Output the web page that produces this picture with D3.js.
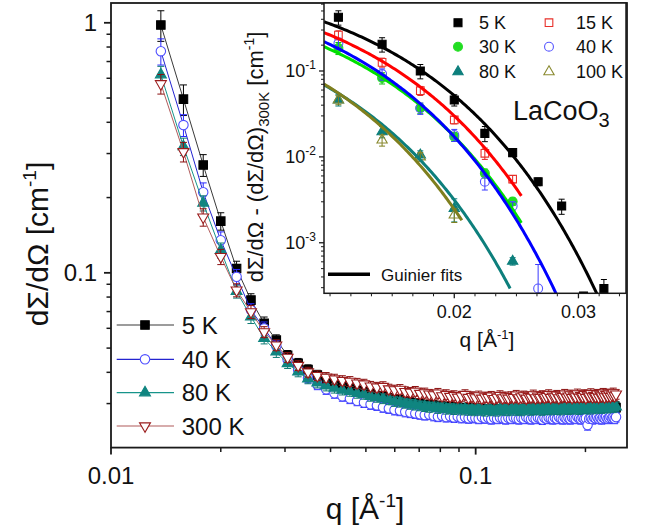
<!DOCTYPE html>
<html><head><meta charset="utf-8">
<script src="https://cdn.jsdelivr.net/npm/d3@7"></script>
<style>
body{margin:0;background:#fff}
text{font-family:"Liberation Sans",Arial,sans-serif;fill:#111}
</style>
</head><body>
<svg id="c" width="649" height="532"></svg>
<script>
// ---------------- MAIN PLOT DATA ----------------
const q = [
0.0137,0.0158,0.0179,0.0200,0.0221,0.0242,0.0263,0.0284,0.0305,0.0326,
0.0347,0.0368,0.0389,0.0410,0.0431,0.0452,0.0473,0.0494,0.0515,0.0536,
0.0557,0.0578,0.0599,0.0620,0.0641,0.0662,0.0683,0.0704,0.0725,0.0746,
0.0767,0.0788,0.0809,0.0830,0.0851,0.0872,0.0893,0.0914,0.0935,0.0956,
0.0977,0.0998,0.1019,0.1040,0.1061,0.1082,0.1103,0.1124,0.1145,0.1166,
0.1187,0.1208,0.1229,0.1250,0.1271,0.1292,0.1313,0.1334,0.1355,0.1376,
0.1397,0.1418,0.1439,0.1460,0.1481,0.1502,0.1523,0.1544,0.1565,0.1586,
0.1607,0.1628,0.1649,0.1670,0.1691,0.1712,0.1733,0.1754,0.1775,0.1796,
0.1817,0.1838,0.1859,0.1880,0.1901,0.1922,0.1943,0.1964,0.1985,0.2006,
0.2027,0.2048,0.2069,0.2090,0.2111,0.2132,0.2153,0.2174,0.2195,0.2216,
0.2237,0.2258,0.2279,0.2300,0.2321,0.2342,0.2363,0.2384,0.2405,0.2426];

const I_5K = [
0.980,0.495,0.270,0.161,0.104,0.0778,0.0628,0.0538,0.0468,0.0435,
0.0410,0.0390,0.0376,0.0362,0.0353,0.0345,0.0338,0.0333,0.0327,0.0322,
0.0319,0.0315,0.0311,0.0309,0.0305,0.0303,0.0300,0.0298,0.0296,0.0294,
0.0295,0.0291,0.0292,0.0289,0.0291,0.0288,0.0289,0.0286,0.0288,0.0285,
0.0287,0.0284,0.0286,0.0283,0.0285,0.0283,0.0286,0.0282,0.0285,0.0283,
0.0286,0.0284,0.0282,0.0285,0.0283,0.0286,0.0284,0.0282,0.0285,0.0287,
0.0284,0.0286,0.0283,0.0285,0.0287,0.0284,0.0286,0.0288,0.0285,0.0287,
0.0284,0.0286,0.0288,0.0285,0.0287,0.0289,0.0286,0.0288,0.0285,0.0289,
0.0287,0.0290,0.0286,0.0288,0.0291,0.0287,0.0289,0.0286,0.0290,0.0288,
0.0291,0.0287,0.0289,0.0292,0.0288,0.0290,0.0287,0.0291,0.0289,0.0292,
0.0288,0.0290,0.0293,0.0289,0.0291,0.0288,0.0292,0.0290,0.0293,0.0289];

const I_40K = [
0.770,0.390,0.210,0.135,0.0964,0.0710,0.0600,0.0510,0.0450,0.0410,
0.0380,0.0357,0.0342,0.0330,0.0321,0.0314,0.0308,0.0303,0.0298,0.0295,
0.0290,0.0287,0.0283,0.0281,0.0278,0.0276,0.0274,0.0272,0.0270,0.0271,
0.0268,0.0266,0.0268,0.0265,0.0267,0.0264,0.0266,0.0263,0.0265,0.0262,
0.0264,0.0263,0.0261,0.0265,0.0262,0.0264,0.0260,0.0263,0.0261,0.0264,
0.0262,0.0260,0.0263,0.0261,0.0264,0.0262,0.0260,0.0263,0.0261,0.0265,
0.0262,0.0260,0.0263,0.0261,0.0264,0.0262,0.0259,0.0263,0.0261,0.0264,
0.0262,0.0260,0.0263,0.0261,0.0265,0.0262,0.0260,0.0264,0.0261,0.0263,
0.0260,0.0264,0.0262,0.0261,0.0265,0.0262,0.0260,0.0263,0.0261,0.0262,
0.0246,0.0261,0.0263,0.0260,0.0264,0.0262,0.0265,0.0261,0.0263,0.0260,
0.0264,0.0262,0.0265,0.0261,0.0263,0.0266,0.0262,0.0264,0.0261,0.0265];

const I_80K = [
0.620,0.320,0.190,0.123,0.0843,0.0667,0.0547,0.0483,0.0434,0.0402,
0.0377,0.0363,0.0353,0.0346,0.0340,0.0336,0.0330,0.0327,0.0321,0.0318,
0.0314,0.0311,0.0306,0.0304,0.0301,0.0298,0.0296,0.0294,0.0292,0.0290,
0.0291,0.0287,0.0289,0.0285,0.0287,0.0284,0.0286,0.0283,0.0285,0.0282,
0.0284,0.0281,0.0285,0.0282,0.0280,0.0284,0.0281,0.0283,0.0280,0.0284,
0.0282,0.0285,0.0281,0.0283,0.0286,0.0282,0.0284,0.0281,0.0285,0.0283,
0.0286,0.0282,0.0284,0.0287,0.0283,0.0285,0.0282,0.0286,0.0284,0.0287,
0.0283,0.0285,0.0288,0.0284,0.0286,0.0283,0.0287,0.0285,0.0289,0.0284,
0.0287,0.0285,0.0290,0.0286,0.0288,0.0284,0.0289,0.0286,0.0291,0.0287,
0.0289,0.0285,0.0290,0.0288,0.0292,0.0286,0.0290,0.0288,0.0293,0.0287,
0.0291,0.0289,0.0294,0.0288,0.0292,0.0290,0.0295,0.0289,0.0293,0.0291];

const I_300K = [
0.570,0.305,0.167,0.116,0.0853,0.0698,0.0580,0.0514,0.0459,0.0426,
0.0401,0.0388,0.0382,0.0376,0.0371,0.0368,0.0362,0.0359,0.0352,0.0349,
0.0351,0.0343,0.0340,0.0342,0.0335,0.0333,0.0336,0.0329,0.0331,0.0327,
0.0325,0.0330,0.0322,0.0326,0.0320,0.0323,0.0318,0.0321,0.0326,0.0317,
0.0320,0.0316,0.0322,0.0315,0.0319,0.0317,0.0321,0.0314,0.0318,0.0323,
0.0316,0.0319,0.0315,0.0320,0.0317,0.0324,0.0316,0.0319,0.0322,0.0315,
0.0320,0.0318,0.0325,0.0316,0.0321,0.0317,0.0323,0.0318,0.0320,0.0326,
0.0317,0.0321,0.0319,0.0324,0.0316,0.0322,0.0320,0.0327,0.0318,0.0321,
0.0325,0.0317,0.0322,0.0319,0.0328,0.0318,0.0323,0.0320,0.0326,0.0317,
0.0324,0.0321,0.0329,0.0319,0.0323,0.0320,0.0327,0.0318,0.0325,0.0322,
0.0330,0.0319,0.0326,0.0321,0.0328,0.0320,0.0325,0.0331,0.0322,0.0327];

// relative errors of the first points, then the plateau value
const relErrLow_5K   = [0.14,0.14,0.10,0.08,0.07,0.06,0.06,0.05];
const relErrLow_40K  = [0.12,0.10,0.09,0.08,0.07,0.06,0.06,0.05];
const relErrLow_80K  = [0.08,0.08,0.07,0.07,0.06,0.06,0.05,0.05];
const relErrLow_300K = [0.09,0.09,0.08,0.07,0.06,0.06,0.05,0.05];
const relErrPlateau = 0.045;

const mainLegend = ["5 K","40 K","80 K","300 K"];
const mainXMajor = [0.01, 0.1];
const mainXMajorLabels = ["0.01","0.1"];
const mainXMinor = [0.02,0.03,0.04,0.05,0.06,0.07,0.08,0.09,0.2];
const mainYMajor = [0.1, 1];
const mainYMajorLabels = ["0.1","1"];
const mainYMinor = [0.03,0.04,0.05,0.06,0.07,0.08,0.09,0.2,0.3,0.4,0.5,0.6,0.7,0.8,0.9];

// ---------------- INSET DATA ----------------
const insetQ = [0.0137,0.0158,0.0179,0.0200,0.0221,0.0242,0.0263,0.0284,0.0305,0.0326];
const dI_5K   = [0.422,0.205,0.100,0.046,0.0188,0.0112,0.00514,0.00268,0.00024,0.000294];
const dI_15K  = [0.262,0.126,0.059,0.0269,0.0110,0.00552];
const dI_30K  = [0.185,0.083,0.037,0.0172,0.00643,0.00302];
const dI_40K  = [0.210,0.092,0.0368,0.0180,0.00514,0.00268,0.000294];
const dI_80K  = [0.046,0.0196,0.0105,0.0025,null,0.00061];
const dI_100K = [0.046,0.0157,0.0100,0.0021];
const dErr_5K   = [0.19,0.19,0.19,0.15,0.20,0.10,0.10,0.20,0.10,0.27];
const dErr_15K  = [0.12,0.12,0.12,0.10,0.15,0.10];
const dErr_30K  = [0.16,0.15,0.14,0.12,0.12,0.10];
const dErr_40K  = [0.15,0.15,0.15,0.16,0.20,0.12,0.90];
const dErr_80K  = [0.15,0.15,0.12,0.30,null,0.10];
const dErr_100K = [0.12,0.15,0.12,0.18];
const insetLegend = ["5 K","15 K","30 K","40 K","80 K","100 K"];
// Guinier fit parameters  I(q) = I0 exp(-q^2 Rg^2 / 3)
const fitI0   = [1.64, 1.48, 1.156, 1.469, 0.687, 0.861];
const fitRg   = [161, 171, 177.6, 182.7, 201, 209.6];
const fitQmax = [0.0350, 0.0249, 0.0249, 0.0350, 0.0240, 0.0205];
const insetXMajor = [0.02, 0.03];
const insetXMajorLabels = ["0.02","0.03"];
const insetXMinor = [0.01333,0.01427,0.01526,0.01633,0.01747,0.01869,0.0214,0.0229,0.0245,0.0262,0.0280,0.0321,0.0343];
const insetYMajor = [0.1, 0.01, 0.001];
const insetYExp = ["-1","-2","-3"];

// ---------------- DRAW ----------------
const svg = d3.select("#c");
const M = {l:111, r:627, t:3, b:447.6};
const x = d3.scaleLog().domain([0.01,0.26]).range([M.l,M.r]);
const y = d3.scaleLog().domain([0.02,1.2]).range([M.b,M.t]);
const defs = svg.append("defs");
defs.append("clipPath").attr("id","cm").append("rect").attr("x",M.l).attr("y",M.t).attr("width",M.r-M.l).attr("height",M.b-M.t);

function errs(vals, low){ return vals.map((v,i)=> v*(i<low.length?low[i]:relErrPlateau)); }

const mainStyles = [
 {vals:I_5K, err:errs(I_5K,relErrLow_5K), line:"#3a3a3a", ebar:"#000", sym:d3.symbolSquare, size:72, fill:"#000", stroke:"#000", rot:false},
 {vals:I_40K, err:errs(I_40K,relErrLow_40K), line:"#2424d0", ebar:"#2a2aff", sym:d3.symbolCircle, size:70, fill:"#fff", stroke:"#4f4fff", rot:false},
 {vals:I_80K, err:errs(I_80K,relErrLow_80K), line:"#17948a", ebar:"#0f7a74", sym:d3.symbolTriangle, size:52, fill:"#108580", stroke:"#108580", rot:false},
 {vals:I_300K, err:errs(I_300K,relErrLow_300K), line:"#b05a5a", ebar:"#8b1010", sym:d3.symbolTriangle, size:52, fill:"#fff", stroke:"#9a1c1c", rot:true}
];

function drawSeries(g, xs, ys, qs, vals, errsArr, st, capW, drawLine){
  const pts = qs.map((qq,i)=>({q:qq, v:vals[i], e:errsArr[i]})).filter(d=>d.v!=null && d.v!==undefined);
  if (drawLine) g.append("path").datum(pts)
     .attr("d", d3.line().x(d=>xs(d.q)).y(d=>ys(d.v)))
     .attr("fill","none").attr("stroke",st.line).attr("stroke-width",1);
  const eb = g.append("g").attr("stroke", st.ebar).attr("stroke-width",1).attr("fill","none");
  pts.forEach(d=>{
    if (d.e==null) return;
    const lo = Math.max(d.v-d.e, 1e-6), hi = d.v+d.e, X = xs(d.q);
    eb.append("path").attr("d", `M${X},${ys(lo)}V${ys(hi)}M${X-capW/2},${ys(hi)}h${capW}M${X-capW/2},${ys(lo)}h${capW}`);
  });
  g.selectAll(null).data(pts).join("path")
    .attr("d", d3.symbol().type(st.sym).size(st.size))
    .attr("transform", d=>`translate(${xs(d.q)},${ys(d.v)})${st.rot?" rotate(180)":""}`)
    .attr("fill", st.fill).attr("stroke", st.stroke).attr("stroke-width", st.sw||1.1);
}

const gm = svg.append("g").attr("clip-path","url(#cm)");
mainStyles.forEach(st=> drawSeries(gm, x, y, q, st.vals, st.err, st, 7, true));

// main frame and ticks
const ax = svg.append("g").attr("stroke","#1a1a1a");
ax.append("rect").attr("x",M.l).attr("y",M.t).attr("width",M.r-M.l).attr("height",M.b-M.t).attr("fill","none").attr("stroke-width",1.8);
mainXMajor.forEach(v=> ax.append("line").attr("x1",x(v)).attr("x2",x(v)).attr("y1",M.b).attr("y2",M.b+7).attr("stroke-width",1.8));
mainXMinor.forEach(v=> ax.append("line").attr("x1",x(v)).attr("x2",x(v)).attr("y1",M.b).attr("y2",M.b+4.5).attr("stroke-width",1.5));
mainYMajor.forEach(v=> ax.append("line").attr("y1",y(v)).attr("y2",y(v)).attr("x1",M.l).attr("x2",M.l-7).attr("stroke-width",1.8));
mainYMinor.forEach(v=> ax.append("line").attr("y1",y(v)).attr("y2",y(v)).attr("x1",M.l).attr("x2",M.l-4.5).attr("stroke-width",1.5));
mainXMajor.forEach((v,i)=> svg.append("text").attr("x",x(v)).attr("y",484).attr("text-anchor","middle").attr("font-size",24).text(mainXMajorLabels[i]));
mainYMajor.forEach((v,i)=> svg.append("text").attr("x",97).attr("y",y(v)+8.6).attr("text-anchor","end").attr("font-size",24).text(mainYMajorLabels[i]));

// axis titles
const xt = svg.append("text").attr("x",365).attr("y",519).attr("text-anchor","middle").attr("font-size",30);
xt.append("tspan").text("q [Å");
xt.append("tspan").attr("dy",-12).attr("font-size",19).text("-1");
xt.append("tspan").attr("dy",12).text("]");
const yt = svg.append("text").attr("transform","translate(48,244) rotate(-90)").attr("text-anchor","middle").attr("font-size",30);
yt.append("tspan").text("dΣ/dΩ [cm");
yt.append("tspan").attr("dy",-12).attr("font-size",19).text("-1");
yt.append("tspan").attr("dy",12).text("]");

// main legend
const legY = [325, 359.3, 392.7, 426];
mainStyles.forEach((st,i)=>{
  svg.append("line").attr("x1",116.7).attr("x2",174).attr("y1",legY[i]).attr("y2",legY[i]).attr("stroke",st.line).attr("stroke-width",1.2);
  svg.append("path").attr("d", d3.symbol().type(st.sym).size(st.size))
    .attr("transform",`translate(145,${legY[i]})${st.rot?" rotate(180)":""}`)
    .attr("fill",st.fill).attr("stroke",st.stroke).attr("stroke-width",1.1);
  svg.append("text").attr("x",181.7).attr("y",legY[i]+8.6).attr("font-size",24).text(mainLegend[i]);
});

// ---------------- INSET ----------------
const IX = {l:324, r:626, t:3, b:293.3};
const xi = d3.scaleLog().domain([0.01307,0.03504]).range([IX.l,IX.r]);
const yi = d3.scaleLog().domain([2.58e-4,0.619]).range([IX.b,IX.t]);
defs.append("clipPath").attr("id","ci").append("rect").attr("x",IX.l).attr("y",IX.t).attr("width",IX.r-IX.l).attr("height",IX.b-IX.t);
svg.append("rect").attr("x",IX.l).attr("y",IX.t).attr("width",IX.r-IX.l).attr("height",IX.b-IX.t).attr("fill","#fff");

const insetStyles = [
 {vals:dI_5K, rel:dErr_5K, fit:"#000", ebar:"#000", sym:d3.symbolSquare, size:64, fill:"#000", stroke:"#000", rot:false},
 {vals:dI_15K, rel:dErr_15K, fit:"#ff0000", ebar:"#e02020", sym:d3.symbolSquare, size:58, fill:"none", stroke:"#e8302a", rot:false},
 {vals:dI_30K, rel:dErr_30K, fit:"#00e000", ebar:"#10c010", sym:d3.symbolCircle, size:62, fill:"#22dd22", stroke:"#22dd22", rot:false},
 {vals:dI_40K, rel:dErr_40K, fit:"#0000ff", ebar:"#3a3aff", sym:d3.symbolCircle, size:62, fill:"none", stroke:"#5555ff", rot:false},
 {vals:dI_80K, rel:dErr_80K, fit:"#0d7f7c", ebar:"#0d7f7c", sym:d3.symbolTriangle, size:46, fill:"#0d7f7c", stroke:"#0d7f7c", rot:false},
 {vals:dI_100K, rel:dErr_100K, fit:"#7f7f1e", ebar:"#7f7f1e", sym:d3.symbolTriangle, size:46, fill:"none", stroke:"#8a8a30", rot:false}
];
const gi = svg.append("g").attr("clip-path","url(#ci)");
insetStyles.forEach(st=>{
  const e = st.vals.map((v,i)=> (v==null||st.rel[i]==null)?null:v*st.rel[i]);
  drawSeries(gi, xi, yi, insetQ, st.vals, e, st, 6, false);
});
// Guinier fits
insetStyles.forEach((st,k)=>{
  const qs = d3.range(0.01307, fitQmax[k], 0.0001).concat([fitQmax[k]]);
  gi.append("path").datum(qs)
    .attr("d", d3.line().x(d=>xi(d)).y(d=>yi(fitI0[k]*Math.exp(-d*d*fitRg[k]*fitRg[k]/3))))
    .attr("fill","none").attr("stroke",st.fit).attr("stroke-width",3);
});

// inset frame & ticks
const ai = svg.append("g").attr("stroke","#1a1a1a");
ai.append("rect").attr("x",IX.l).attr("y",IX.t).attr("width",IX.r-IX.l).attr("height",IX.b-IX.t).attr("fill","none").attr("stroke-width",1.5);
insetXMajor.forEach(v=> ai.append("line").attr("x1",xi(v)).attr("x2",xi(v)).attr("y1",IX.b).attr("y2",IX.b+5).attr("stroke-width",1.3));
insetXMinor.forEach(v=> ai.append("line").attr("x1",xi(v)).attr("x2",xi(v)).attr("y1",IX.b).attr("y2",IX.b+3).attr("stroke-width",1));
const insetYMinor = [];
[0.0001,0.001,0.01,0.1].forEach(dec=>{ for(let m=2;m<=9;m++){ const v=m*dec; if(v>2.58e-4 && v<0.619) insetYMinor.push(v);} });
insetYMajor.forEach(v=> ai.append("line").attr("y1",yi(v)).attr("y2",yi(v)).attr("x1",IX.l).attr("x2",IX.l-5).attr("stroke-width",1.3));
insetYMinor.forEach(v=> ai.append("line").attr("y1",yi(v)).attr("y2",yi(v)).attr("x1",IX.l).attr("x2",IX.l-3).attr("stroke-width",1));
insetXMajor.forEach((v,i)=> svg.append("text").attr("x",xi(v)).attr("y",317.5).attr("text-anchor","middle").attr("font-size",18).text(insetXMajorLabels[i]));
insetYMajor.forEach((v,i)=>{
  const t = svg.append("text").attr("x",316).attr("y",yi(v)+6.5).attr("text-anchor","end").attr("font-size",18);
  t.append("tspan").text("10");
  t.append("tspan").attr("dy",-8).attr("font-size",12).text(insetYExp[i]);
});
const xit = svg.append("text").attr("x",487).attr("y",347).attr("text-anchor","middle").attr("font-size",21);
xit.append("tspan").text("q [Å");
xit.append("tspan").attr("dy",-8).attr("font-size",13).text("-1");
xit.append("tspan").attr("dy",8).text("]");
const yit = svg.append("text").attr("transform","translate(263,157) rotate(-90)").attr("text-anchor","middle").attr("font-size",22);
yit.append("tspan").text("dΣ/dΩ - (dΣ/dΩ)");
yit.append("tspan").attr("dy",6).attr("font-size",15).text("300K");
yit.append("tspan").attr("dy",-6).text(" [cm");
yit.append("tspan").attr("dy",-9).attr("font-size",14).text("-1");
yit.append("tspan").attr("dy",9).text("]");

// inset legend
const ilx = [458, 549], ilt = [479, 576], ily = [22.7, 46.7, 71.7];
insetStyles.forEach((st,k)=>{
  const col = k%2, row = Math.floor(k/2);
  svg.append("path").attr("d", d3.symbol().type(st.sym).size(st.size))
    .attr("transform",`translate(${ilx[col]},${ily[row]})`)
    .attr("fill",st.fill).attr("stroke",st.stroke).attr("stroke-width",1.1);
  svg.append("text").attr("x",ilt[col]).attr("y",ily[row]+6.5).attr("font-size",18).text(insetLegend[k]);
});
const lc = svg.append("text").attr("x",513).attr("y",119.5).attr("font-size",27);
lc.append("tspan").text("LaCoO");
lc.append("tspan").attr("dy",7).attr("font-size",20).text("3");
svg.append("line").attr("x1",328).attr("x2",370).attr("y1",274.3).attr("y2",274.3).attr("stroke","#000").attr("stroke-width",3.5);
svg.append("text").attr("x",381).attr("y",281).attr("font-size",17).text("Guinier fits");
</script>
</body></html>
